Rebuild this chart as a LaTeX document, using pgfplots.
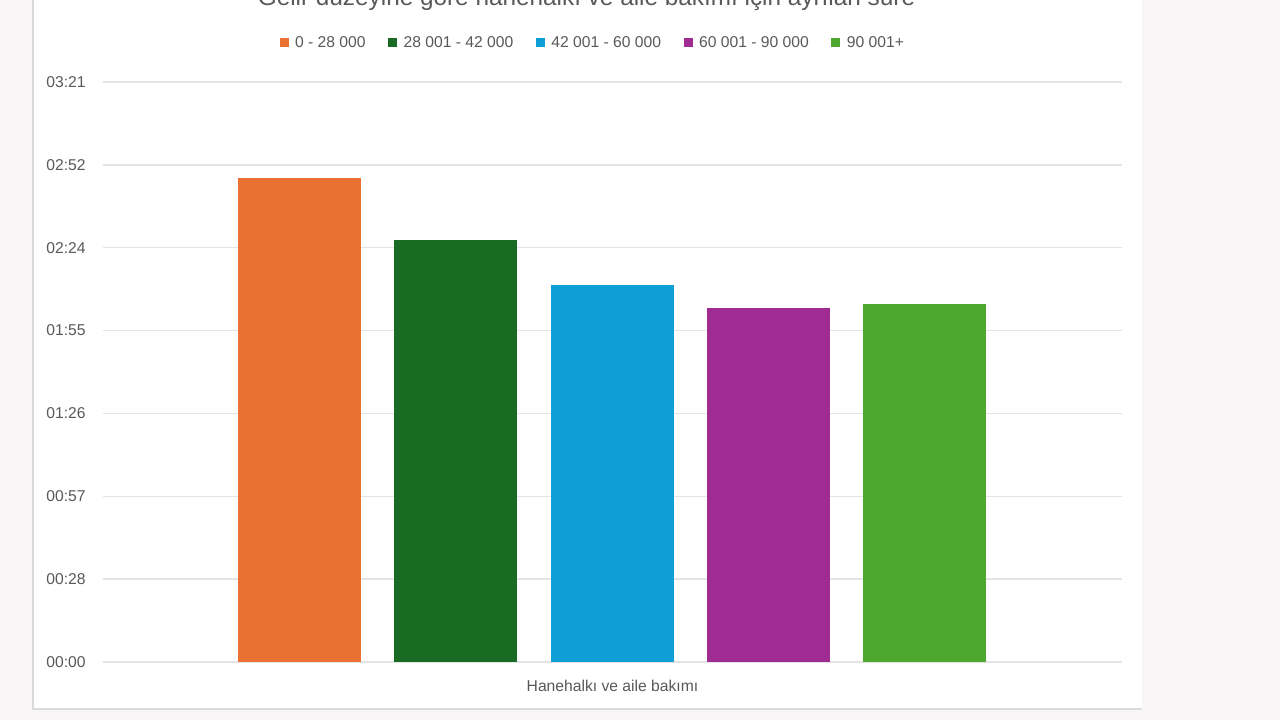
\documentclass[border=0pt]{standalone}
\usepackage{pgfplots}
\pgfplotsset{compat=1.18}
\usepackage{fontspec}
\setmainfont{Liberation Sans}
\definecolor{bgc}{HTML}{F8F6F6}
\definecolor{panelb}{HTML}{DADADA}
\definecolor{gridc}{HTML}{E4E4E4}
\definecolor{txt}{HTML}{595959}
\definecolor{cA}{HTML}{E97132}
\definecolor{cB}{HTML}{196B24}
\definecolor{cC}{HTML}{0F9ED5}
\definecolor{cD}{HTML}{A02B93}
\definecolor{cE}{HTML}{4EA72E}
\begin{document}
\begin{tikzpicture}[x=0.6pt,y=0.6pt]
\useasboundingbox (0,0) rectangle (1280,720);
\clip (0,0) rectangle (1280,720);
\fill[bgc] (0,0) rectangle (1280,720);
\fill[white] (33,11) rectangle (1142,730);
\draw[panelb, line width=0.8pt] (33,730) -- (33,11) -- (1142,11);
\node[anchor=base, text=txt, font=\fontsize{14.6pt}{16pt}\selectfont, inner sep=0pt] at (586.5,714) {Gelir düzeyine göre hanehalkı ve aile bakımı için ayrılan süre};
\begin{axis}[
  at={(61.8pt,34.8pt)}, anchor=south west,
  scale only axis, width=611.4pt, height=348pt,
  xmin=103, xmax=1122, ymin=0, ymax=201.6,
  axis line style={draw=none},
  tick style={draw=none},
  xtick=\empty,
  ytick={0,28.8,57.6,86.4,115.2,144,172.8,201.6},
  yticklabels={00:00,00:28,00:57,01:26,01:55,02:24,02:52,03:21},
  yticklabel style={anchor=west, inner sep=0pt, xshift=-34.2pt, text=txt, font=\fontsize{9.4pt}{11pt}\selectfont},
  ymajorgrids, grid style={gridc, line width=0.9pt},
  xlabel={Hanehalkı ve aile bakımı},
  xlabel style={at={(axis description cs:0.5,0)}, anchor=center, yshift=-14.4pt, text=txt, font=\fontsize{9.4pt}{11pt}\selectfont},
  legend columns=5,
  legend style={draw=none, fill=none, at={(axis description cs:0.5,1)}, anchor=center, xshift=-11.7pt, yshift=23.4pt,
    font=\fontsize{9.4pt}{11pt}\selectfont, text=txt,
    /tikz/every even column/.append style={column sep=12pt},
    /tikz/every odd column/.append style={column sep=2.4pt},
    nodes={inner sep=1.5pt}},
  legend image code/.code={\fill[#1] (0pt,-2.7pt) rectangle (5.4pt,2.7pt);},
  clip=false,
]
\addplot[ybar, bar width=73.8pt, fill=cA, draw=none] coordinates {(299.5,168.1)};
\addlegendentry{0 - 28 000}
\addplot[ybar, bar width=73.8pt, fill=cB, draw=none] coordinates {(456,146.7)};
\addlegendentry{28 001 - 42 000}
\addplot[ybar, bar width=73.8pt, fill=cC, draw=none] coordinates {(612.5,131.0)};
\addlegendentry{42 001 - 60 000}
\addplot[ybar, bar width=73.8pt, fill=cD, draw=none] coordinates {(768.5,122.9)};
\addlegendentry{60 001 - 90 000}
\addplot[ybar, bar width=73.8pt, fill=cE, draw=none] coordinates {(924.5,124.4)};
\addlegendentry{90 001+}
\end{axis}
\end{tikzpicture}
\end{document}
